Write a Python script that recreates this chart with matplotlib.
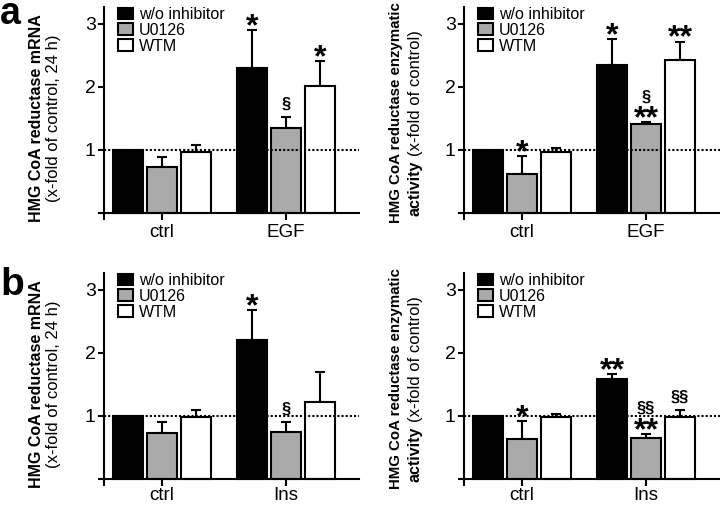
import numpy as np
import matplotlib
matplotlib.use('Agg')
import matplotlib.pyplot as plt

plt.rcParams['font.family'] = ['Liberation Sans', 'DejaVu Sans']

# data
series = ['w/o inhibitor', 'U0126', 'WTM']
colors = ['black', '#aaaaaa', 'white']
groups_a = ['ctrl', 'EGF']
groups_b = ['ctrl', 'Ins']

# order: ctrl (black, gray, white), stim (black, gray, white)
egf_mrna = [1.00, 0.73, 0.97, 2.30, 1.35, 2.02]
egf_mrna_err = [0.0, 0.16, 0.11, 0.60, 0.17, 0.39]
egf_mrna_stars = ['', '', '', '*', '', '*']
egf_mrna_sect = ['', '', '', '', '§', '']

egf_act = [1.00, 0.62, 0.97, 2.35, 1.41, 2.42]
egf_act_err = [0.0, 0.28, 0.06, 0.41, 0.03, 0.30]
egf_act_stars = ['', '*', '', '*', '**', '**']
egf_act_sect = ['', '', '', '', '§', '']

ins_mrna = [1.00, 0.73, 0.98, 2.20, 0.74, 1.22]
ins_mrna_err = [0.0, 0.17, 0.11, 0.48, 0.16, 0.48]
ins_mrna_stars = ['', '', '', '*', '', '']
ins_mrna_sect = ['', '', '', '', '§', '']

ins_act = [1.00, 0.63, 0.98, 1.59, 0.65, 0.98]
ins_act_err = [0.0, 0.28, 0.05, 0.07, 0.06, 0.11]
ins_act_stars = ['', '*', '', '**', '**', '']
ins_act_sect = ['', '', '', '', '§§', '§§']

W, H = 720, 508
fig = plt.figure(figsize=(7.2, 5.08), dpi=100)

pitch = 0.274
bw = 0.235


def draw_panel(rect, groups, vals, errs, stars, sects, xpad):
    ax = fig.add_axes([rect[0] / W, 1 - rect[3] / H, (rect[2] - rect[0]) / W, (rect[3] - rect[1]) / H])
    vals = np.array(vals).reshape(2, 3)
    errs = np.array(errs).reshape(2, 3)
    handles = []
    for j in range(3):
        xs = np.arange(2) + (j - 1) * pitch
        b = ax.bar(xs, vals[:, j], bw, color=colors[j], edgecolor='black', lw=1.5,
                   label=series[j], zorder=2)
        handles.append(b)
        for g in range(2):
            if errs[g, j] > 0:
                ax.errorbar(xs[g], vals[g, j], yerr=[[0], [errs[g, j]]], fmt='none',
                            ecolor='black', elinewidth=1.5, capsize=3.5, capthick=1.5, zorder=1)
            top = vals[g, j] + errs[g, j]
            k = g * 3 + j
            if stars[k]:
                ax.annotate(stars[k], (xs[g], top), xytext=(0, -3.5), textcoords='offset points',
                            ha='center', va='baseline', fontsize=23, fontweight='bold')
            if sects[k]:
                off = 15 if stars[k] else 6
                ax.annotate(sects[k], (xs[g], top), xytext=(0, off), textcoords='offset points',
                            ha='center', va='baseline', fontsize=12, fontweight='bold')
    ax.axhline(1, color='black', ls=(0, (1, 1)), lw=1.5, zorder=3)
    ax.set_xlim(-0.468, (rect[2] - 162 - (rect[0] - 104)) / 124)
    ax.set_ylim(-0.1, 3.27)
    ax.spines['bottom'].set_position(('data', 0))
    for s in ['top', 'right']:
        ax.spines[s].set_visible(False)
    for s in ['left', 'bottom']:
        ax.spines[s].set_linewidth(1.5)
    ax.set_xticks([0, 1])
    ax.set_xticklabels(groups, fontsize=13.5)
    ax.set_yticks([0, 1, 2, 3])
    ax.set_yticklabels(['', '1', '2', '3'], fontsize=14)
    ax.tick_params(axis='x', length=5, width=1.5, pad=xpad)
    ax.tick_params(axis='y', length=4, width=1.5, pad=2)
    ax.legend(handles=handles, loc='upper left', bbox_to_anchor=(14 / 255, 1.0), frameon=False,
              borderpad=0, borderaxespad=0, labelspacing=0.05, handlelength=0.95,
              handleheight=0.75, handletextpad=0.35, fontsize=11.5)
    return ax


def ylabel_mrna(dy):
    fig.text(37 / W, 1 - (118 + dy) / H, 'HMG CoA reductase mRNA', rotation=90,
             ha='center', va='center', fontsize=11.5, fontweight='bold')
    fig.text(54 / W, 1 - (118 + dy) / H, '(x-fold of control, 24 h)', rotation=90,
             ha='center', va='center', fontsize=12)


def ylabel_act(dy):
    fig.text(396 / W, 1 - (223 + dy) / H, 'HMG CoA reductase enzymatic', rotation=90,
             ha='center', va='bottom', fontsize=10.8, fontweight='bold')
    fig.text(415 / W, 1 - (216 + dy) / H, 'activity', rotation=90,
             ha='center', va='bottom', fontsize=11.5, fontweight='bold')
    fig.text(416 / W, 1 - (156 + dy) / H, '(x-fold of control)', rotation=90,
             ha='center', va='bottom', fontsize=12)


draw_panel((104, 7, 359, 219), groups_a, egf_mrna, egf_mrna_err, egf_mrna_stars, egf_mrna_sect, 3)
draw_panel((464, 7, 720, 219), groups_a, egf_act, egf_act_err, egf_act_stars, egf_act_sect, 3)
draw_panel((104, 273, 359, 485), groups_b, ins_mrna, ins_mrna_err, ins_mrna_stars, ins_mrna_sect, 1)
draw_panel((464, 273, 720, 485), groups_b, ins_act, ins_act_err, ins_act_stars, ins_act_sect, 1)

ylabel_mrna(0)
ylabel_act(0)
ylabel_mrna(266)
ylabel_act(266)

fig.text(0, 1 - 24 / H, 'a', fontsize=27, fontweight='bold', ha='left', va='baseline')
fig.text(0, 1 - 295 / H, 'b', fontsize=28, fontweight='bold', ha='left', va='baseline')

fig.savefig('out.png', dpi=100)
